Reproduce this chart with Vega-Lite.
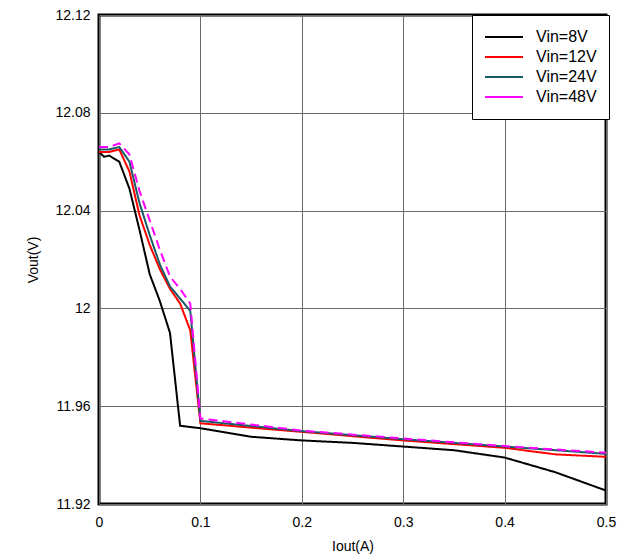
{
  "$schema": "https://vega.github.io/schema/vega-lite/v6.json",
  "width": 507,
  "height": 489,
  "autosize": {"type": "none"},
  "padding": {"left": 99, "top": 15, "right": 26, "bottom": 56},
  "background": "white",
  "config": {
    "font": "Liberation Sans",
    "view": {"stroke": "black", "strokeWidth": 3},
    "axis": {
      "domain": false,
      "ticks": false,
      "grid": true,
      "gridColor": "#6a6a6a",
      "gridWidth": 1,
      "gridOpacity": 1,
      "labelFlush": false,
      "labelFont": "Liberation Sans",
      "labelFontSize": 14,
      "labelColor": "black",
      "titleFont": "Liberation Sans",
      "titleFontSize": 14,
      "titleFontWeight": "normal",
      "titleColor": "black"
    },
    "legend": {
      "labelFont": "Liberation Sans",
      "labelFontSize": 16,
      "labelColor": "black"
    }
  },
  "data": {
    "values": [
      {"x": 0, "v": 12.064, "s": "Vin=8V"},
      {"x": 0.005, "v": 12.062, "s": "Vin=8V"},
      {"x": 0.01, "v": 12.0625, "s": "Vin=8V"},
      {"x": 0.02, "v": 12.060, "s": "Vin=8V"},
      {"x": 0.03, "v": 12.049, "s": "Vin=8V"},
      {"x": 0.04, "v": 12.032, "s": "Vin=8V"},
      {"x": 0.05, "v": 12.014, "s": "Vin=8V"},
      {"x": 0.06, "v": 12.003, "s": "Vin=8V"},
      {"x": 0.07, "v": 11.990, "s": "Vin=8V"},
      {"x": 0.08, "v": 11.952, "s": "Vin=8V"},
      {"x": 0.1, "v": 11.951, "s": "Vin=8V"},
      {"x": 0.15, "v": 11.9475, "s": "Vin=8V"},
      {"x": 0.2, "v": 11.946, "s": "Vin=8V"},
      {"x": 0.25, "v": 11.945, "s": "Vin=8V"},
      {"x": 0.3, "v": 11.9435, "s": "Vin=8V"},
      {"x": 0.35, "v": 11.942, "s": "Vin=8V"},
      {"x": 0.4, "v": 11.939, "s": "Vin=8V"},
      {"x": 0.45, "v": 11.933, "s": "Vin=8V"},
      {"x": 0.5, "v": 11.9255, "s": "Vin=8V"},

      {"x": 0, "v": 12.064, "s": "Vin=12V"},
      {"x": 0.01, "v": 12.064, "s": "Vin=12V"},
      {"x": 0.02, "v": 12.065, "s": "Vin=12V"},
      {"x": 0.03, "v": 12.056, "s": "Vin=12V"},
      {"x": 0.04, "v": 12.038, "s": "Vin=12V"},
      {"x": 0.05, "v": 12.026, "s": "Vin=12V"},
      {"x": 0.06, "v": 12.016, "s": "Vin=12V"},
      {"x": 0.07, "v": 12.008, "s": "Vin=12V"},
      {"x": 0.08, "v": 12.002, "s": "Vin=12V"},
      {"x": 0.09, "v": 11.991, "s": "Vin=12V"},
      {"x": 0.1, "v": 11.953, "s": "Vin=12V"},
      {"x": 0.2, "v": 11.9495, "s": "Vin=12V"},
      {"x": 0.3, "v": 11.946, "s": "Vin=12V"},
      {"x": 0.4, "v": 11.943, "s": "Vin=12V"},
      {"x": 0.45, "v": 11.9403, "s": "Vin=12V"},
      {"x": 0.5, "v": 11.9393, "s": "Vin=12V"},

      {"x": 0, "v": 12.065, "s": "Vin=24V"},
      {"x": 0.01, "v": 12.065, "s": "Vin=24V"},
      {"x": 0.02, "v": 12.066, "s": "Vin=24V"},
      {"x": 0.03, "v": 12.060, "s": "Vin=24V"},
      {"x": 0.04, "v": 12.043, "s": "Vin=24V"},
      {"x": 0.05, "v": 12.030, "s": "Vin=24V"},
      {"x": 0.06, "v": 12.018, "s": "Vin=24V"},
      {"x": 0.07, "v": 12.009, "s": "Vin=24V"},
      {"x": 0.08, "v": 12.004, "s": "Vin=24V"},
      {"x": 0.09, "v": 11.999, "s": "Vin=24V"},
      {"x": 0.1, "v": 11.954, "s": "Vin=24V"},
      {"x": 0.2, "v": 11.9498, "s": "Vin=24V"},
      {"x": 0.3, "v": 11.9465, "s": "Vin=24V"},
      {"x": 0.4, "v": 11.9435, "s": "Vin=24V"},
      {"x": 0.45, "v": 11.942, "s": "Vin=24V"},
      {"x": 0.5, "v": 11.9405, "s": "Vin=24V"},

      {"x": 0, "v": 12.066, "s": "Vin=48V"},
      {"x": 0.01, "v": 12.066, "s": "Vin=48V"},
      {"x": 0.02, "v": 12.0675, "s": "Vin=48V"},
      {"x": 0.03, "v": 12.063, "s": "Vin=48V"},
      {"x": 0.04, "v": 12.048, "s": "Vin=48V"},
      {"x": 0.05, "v": 12.036, "s": "Vin=48V"},
      {"x": 0.06, "v": 12.024, "s": "Vin=48V"},
      {"x": 0.07, "v": 12.013, "s": "Vin=48V"},
      {"x": 0.08, "v": 12.008, "s": "Vin=48V"},
      {"x": 0.09, "v": 12.002, "s": "Vin=48V"},
      {"x": 0.1, "v": 11.955, "s": "Vin=48V"},
      {"x": 0.2, "v": 11.950, "s": "Vin=48V"},
      {"x": 0.3, "v": 11.9468, "s": "Vin=48V"},
      {"x": 0.4, "v": 11.9437, "s": "Vin=48V"},
      {"x": 0.45, "v": 11.9423, "s": "Vin=48V"},
      {"x": 0.5, "v": 11.941, "s": "Vin=48V"}
    ]
  },
  "mark": {"type": "line", "strokeWidth": 2, "clip": true},
  "encoding": {
    "x": {
      "field": "x",
      "type": "quantitative",
      "scale": {"domain": [0, 0.5], "nice": false, "zero": false},
      "axis": {"values": [0, 0.1, 0.2, 0.3, 0.4, 0.5], "format": "~g", "title": "Iout(A)", "labelPadding": 11, "titlePadding": 10}
    },
    "y": {
      "field": "v",
      "type": "quantitative",
      "scale": {"domain": [11.92, 12.12], "nice": false, "zero": false},
      "axis": {"values": [11.92, 11.96, 12, 12.04, 12.08, 12.12], "format": "~g", "title": "Vout(V)", "labelPadding": 9, "titlePadding": 14}
    },
    "color": {
      "field": "s",
      "type": "nominal",
      "sort": ["Vin=8V", "Vin=12V", "Vin=24V", "Vin=48V"],
      "scale": {"domain": ["Vin=8V", "Vin=12V", "Vin=24V", "Vin=48V"], "range": ["#000000", "#ff0000", "#1a5a66", "#ff00ff"]},
      "legend": {
        "title": null,
        "orient": "none",
        "legendX": 373,
        "legendY": 0,
        "symbolType": "stroke",
        "symbolSize": 1444,
        "symbolStrokeWidth": 2,
        "clipHeight": 20,
        "strokeColor": "black",
        "fillColor": "white",
        "padding": 12,
        "labelOffset": 12,
        "rowPadding": 0,
        "labelLimit": 200,
        "encoding": {"legend": {"update": {"strokeWidth": {"value": 2}}}}
      }
    },
    "strokeDash": {
      "condition": {"test": "datum.s === 'Vin=48V'", "value": [9, 5]},
      "value": [1, 0]
    },
    "order": {"field": "x", "type": "quantitative"}
  }
}
